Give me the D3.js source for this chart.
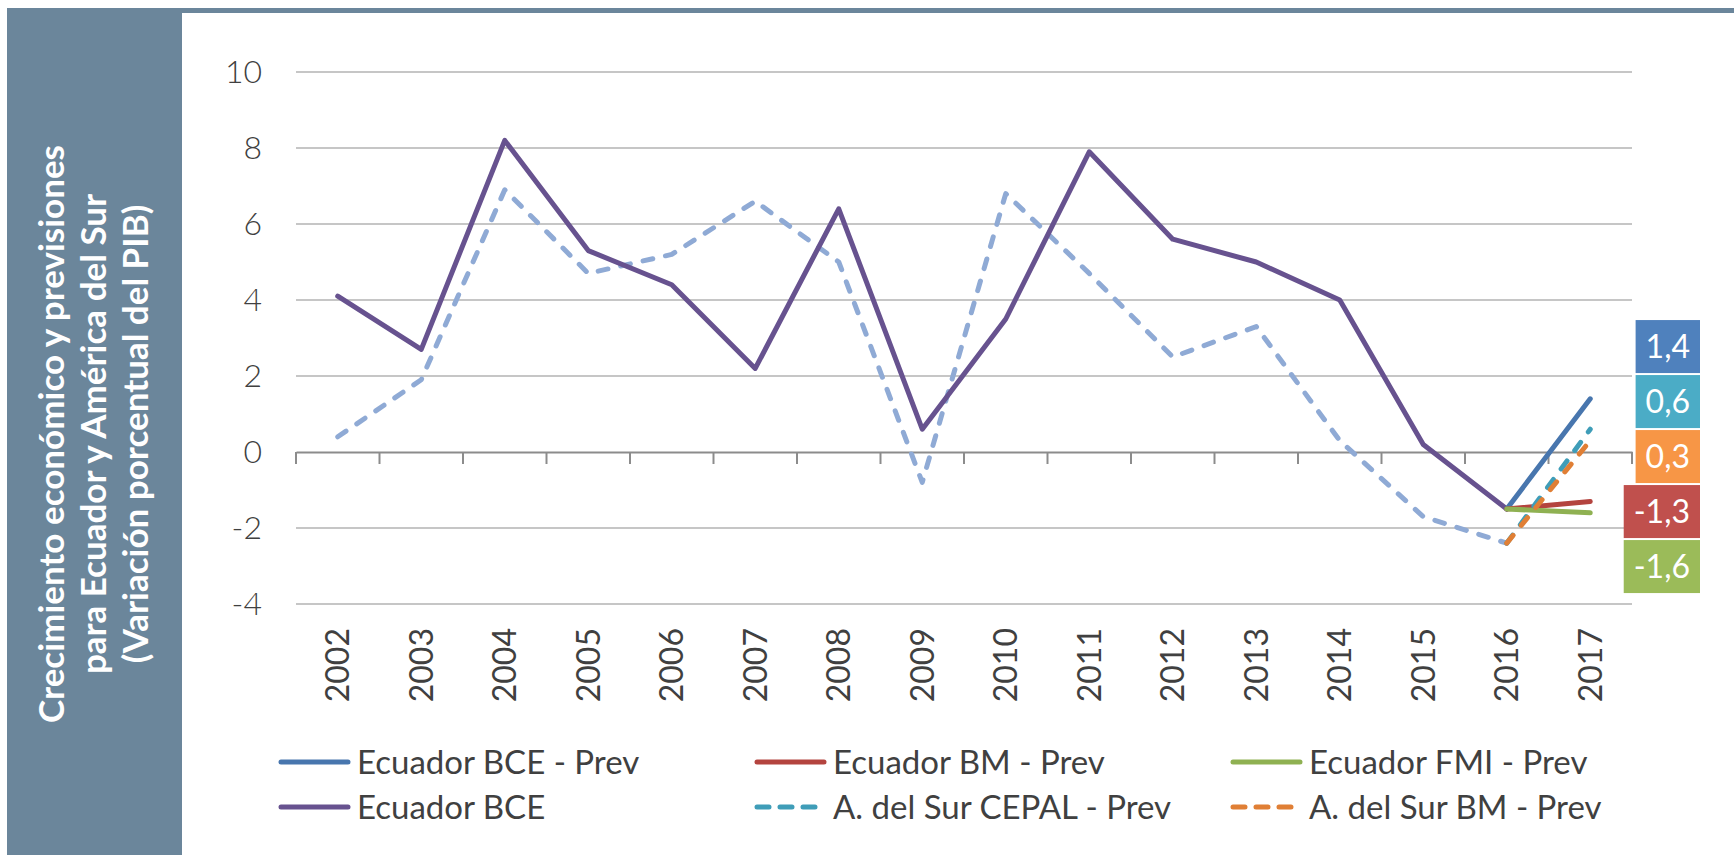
<html>
<head>
  <meta charset="utf-8">
  <title>Crecimiento Ecuador y América del Sur</title>
  <script src="https://cdnjs.cloudflare.com/ajax/libs/d3/7.8.5/d3.min.js"></script>
  <style>
    body { margin: 0; background: #fff; }
    text { font-family: Lato, "Open Sans", sans-serif; }
  </style>
</head>
<body>
  <script>
    // Tamaño
    const w = 1734;
    const h = 855;

    // Datos
    const years = ["2002", "2003", "2004", "2005", "2006", "2007", "2008", "2009",
      "2010", "2011", "2012", "2013", "2014", "2015", "2016", "2017"];
    const ecuadorBCE = [4.1, 2.7, 8.2, 5.3, 4.4, 2.2, 6.4, 0.6, 3.5, 7.9, 5.6, 5.0, 4.0, 0.2, -1.5, null];
    const surHist = [0.4, 1.9, 6.9, 4.7, 5.2, 6.6, 5.0, -0.8, 6.8, 4.7, 2.5, 3.3, 0.3, -1.7, -2.4, null];
    // Previsiones (2016 -> 2017)
    const prevYears = ["2016", "2017"];
    const ecuadorBCEPrev = [-1.5, 1.4];
    const ecuadorBMPrev = [-1.5, -1.3];
    const ecuadorFMIPrev = [-1.5, -1.6];
    const surCEPALPrev = [-2.4, 0.6];
    const surBMPrev = [-2.4, 0.3];
    const yTicks = [-4, -2, 0, 2, 4, 6, 8, 10];
    const titleLines = ["Crecimiento económico y previsiones",
      "para Ecuador y América del Sur",
      "(Variación porcentual del PIB)"];

    const panelColor = "#6b869b";

    // Series en el orden en que se dibujan
    const series = [
      { name: "A. del Sur", x: years, v: surHist, color: "#8faad5", dash: true, legend: false },
      { name: "Ecuador BCE", x: years, v: ecuadorBCE, color: "#67528f", dash: false, legend: true },
      { name: "Ecuador BCE - Prev", x: prevYears, v: ecuadorBCEPrev, color: "#4876ae", dash: false, legend: true, label: "#4f81bd" },
      { name: "Ecuador BM - Prev", x: prevYears, v: ecuadorBMPrev, color: "#b4443f", dash: false, legend: true, label: "#c0504d" },
      { name: "Ecuador FMI - Prev", x: prevYears, v: ecuadorFMIPrev, color: "#8fb152", dash: false, legend: true, label: "#9bbb59" },
      { name: "A. del Sur CEPAL - Prev", x: prevYears, v: surCEPALPrev, color: "#3f9db8", dash: true, legend: true, label: "#4bacc6" },
      { name: "A. del Sur BM - Prev", x: prevYears, v: surBMPrev, color: "#e07f35", dash: true, legend: true, label: "#f79646" }
    ];
    const legendOrder = ["Ecuador BCE - Prev", "Ecuador BM - Prev", "Ecuador FMI - Prev",
      "Ecuador BCE", "A. del Sur CEPAL - Prev", "A. del Sur BM - Prev"];

    // Escalas
    const xScale = d3.scaleBand().domain(years).range([296, 1632]).padding(0);
    const yScale = d3.scaleLinear().domain([-4, 10]).range([604, 72]);
    const cx = d => xScale(d) + xScale.bandwidth() / 2;

    const svg = d3.select("body").append("svg")
      .attr("width", w)
      .attr("height", h);

    // Panel lateral y franja superior
    svg.append("rect").attr("x", 7).attr("y", 8).attr("width", w - 7).attr("height", 5).attr("fill", panelColor);
    svg.append("rect").attr("x", 7).attr("y", 8).attr("width", 175).attr("height", h - 8).attr("fill", panelColor);

    svg.selectAll(".title")
      .data(titleLines)
      .enter()
      .append("text")
      .attr("class", "title")
      .attr("transform", (d, i) => "translate(" + (64 + i * 42) + ",434) rotate(-90)")
      .attr("text-anchor", "middle")
      .attr("fill", "#fff")
      .attr("font-weight", "bold")
      .attr("font-size", 35)
      .text(d => d);

    // Líneas de cuadrícula
    svg.append("g")
      .selectAll("line")
      .data(yTicks.filter(t => t !== 0))
      .enter()
      .append("line")
      .attr("x1", 296).attr("x2", 1632)
      .attr("y1", d => yScale(d)).attr("y2", d => yScale(d))
      .attr("stroke", "#c6c6c6")
      .attr("stroke-width", 2);

    // Eje Y (solo etiquetas)
    const yAxis = d3.axisLeft(yScale).tickValues(yTicks).tickSize(0).tickPadding(0)
      .tickFormat(d => String(d));
    const gy = svg.append("g").attr("transform", "translate(262,0)").call(yAxis);
    gy.select(".domain").remove();
    gy.selectAll("text")
      .attr("font-family", "Lato, 'Open Sans', sans-serif")
      .attr("font-size", 32)
      .attr("font-weight", 300)
      .attr("fill", "#404040");

    // Eje X en cero con marcas entre categorías
    const xAxis = d3.axisBottom(xScale).tickSize(0).tickFormat("");
    const gx = svg.append("g").attr("transform", "translate(0," + yScale(0) + ")").call(xAxis);
    gx.select(".domain").attr("stroke", "#8c8c8c").attr("stroke-width", 2);
    gx.selectAll(".tick").remove();
    gx.selectAll(".sep")
      .data(years.concat(["end"]))
      .enter()
      .append("line")
      .attr("x1", d => d === "end" ? xScale.range()[1] : xScale(d))
      .attr("x2", d => d === "end" ? xScale.range()[1] : xScale(d))
      .attr("y1", 0).attr("y2", 12)
      .attr("stroke", "#8c8c8c")
      .attr("stroke-width", 2);

    // Etiquetas de años (verticales)
    svg.append("g")
      .selectAll("text")
      .data(years)
      .enter()
      .append("text")
      .attr("transform", d => "translate(" + cx(d) + ",628) rotate(-90)")
      .attr("text-anchor", "end")
      .attr("dy", "0.36em")
      .attr("font-size", 32)
      .attr("fill", "#404040")
      .text(d => d);

    // Líneas
    const line = d3.line()
      .defined(d => d.v !== null)
      .x(d => cx(d.x))
      .y(d => yScale(d.v));

    svg.append("g")
      .selectAll("path")
      .data(series)
      .enter()
      .append("path")
      .attr("d", s => line(s.x.map((x, i) => ({ x: x, v: s.v[i] }))))
      .attr("fill", "none")
      .attr("stroke", s => s.color)
      .attr("stroke-width", 5)
      .attr("stroke-linejoin", "round")
      .attr("stroke-linecap", "round")
      .attr("stroke-dasharray", s => s.dash ? "10,13" : null);

    // Etiquetas de valores 2017 (evitando superposición)
    const boxH = 53;
    const labels = series.filter(s => s.label).map(s => ({
      s: s,
      val: s.v[1],
      y: yScale(s.v[1])
    }));
    labels.sort((a, b) => a.y - b.y);
    for (let k = 0; k < 200; k++) {
      for (let i = 1; i < labels.length; i++) {
        const gap = labels[i].y - labels[i - 1].y;
        if (gap < boxH + 2) {
          const push = (boxH + 2 - gap) / 2;
          labels[i].y += push;
          labels[i - 1].y -= push;
        }
      }
    }
    const labelRight = xScale.range()[1] + 68;
    const lg = svg.append("g")
      .selectAll("g")
      .data(labels)
      .enter()
      .append("g");
    lg.append("text")
      .attr("x", labelRight)
      .attr("y", d => d.y)
      .attr("dy", "0.36em")
      .attr("font-size", 32)
      .attr("fill", "#fff")
      .text(d => d3.format(".1f")(d.val).replace(".", ",").replace("−", "-"))
      .each(function (d) { d.tw = this.getComputedTextLength(); })
      .attr("x", d => labelRight - (d.tw + 20) / 2)
      .attr("text-anchor", "middle");
    lg.insert("rect", "text")
      .attr("x", d => labelRight - d.tw - 20)
      .attr("y", d => d.y - boxH / 2)
      .attr("width", d => d.tw + 20)
      .attr("height", boxH)
      .attr("fill", d => d.s.label);

    // Leyenda
    const legend = svg.append("g")
      .selectAll("g")
      .data(legendOrder.map(n => series.find(s => s.name === n)))
      .enter()
      .append("g")
      .attr("transform", (d, i) => "translate(" + (279 + (i % 3) * 476) + "," + (762 + Math.floor(i / 3) * 45) + ")");
    legend.append("line")
      .attr("x1", 2).attr("x2", 69)
      .attr("y1", 0).attr("y2", 0)
      .attr("stroke", d => d.color)
      .attr("stroke-width", 5)
      .attr("stroke-linecap", "round")
      .attr("stroke-dasharray", d => d.dash ? "12,11" : null);
    legend.append("text")
      .attr("x", 78)
      .attr("dy", "0.36em")
      .attr("font-size", 33)
      .attr("fill", "#404040")
      .text(d => d.name);
  </script>
</body>
</html>
